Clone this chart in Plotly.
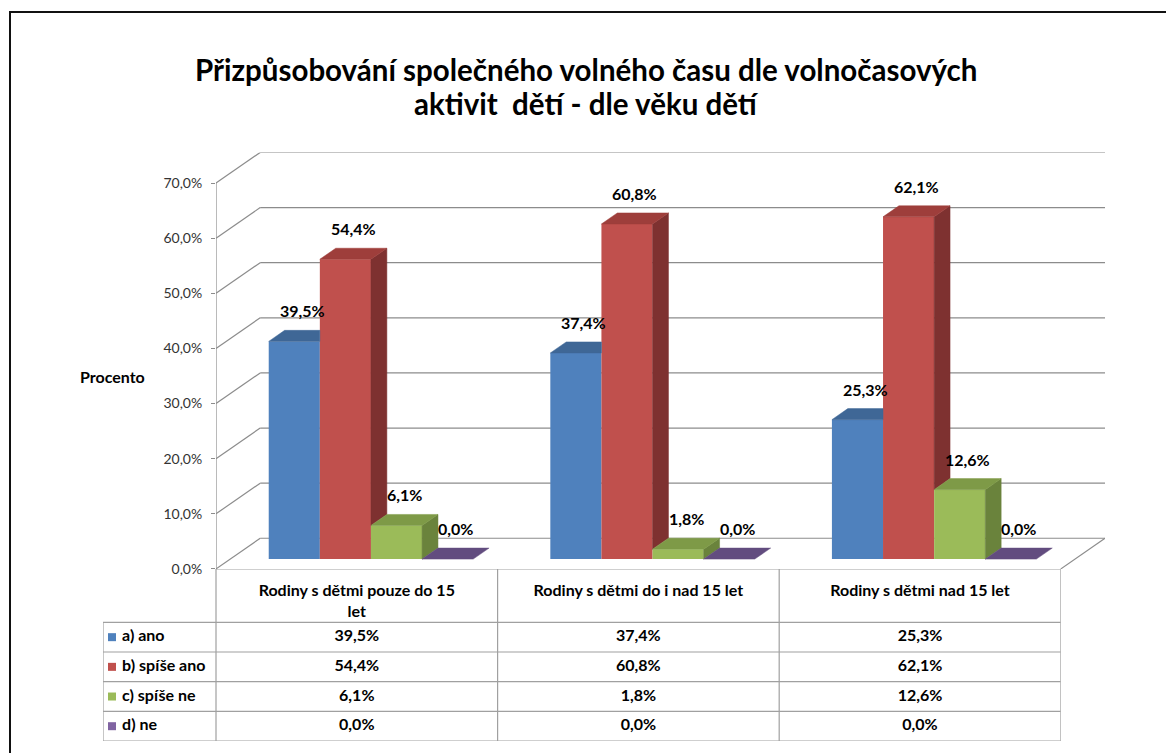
import plotly.graph_objects as go

# ---------------- data ----------------
title_lines = ["Přizpůsobování společného volného času dle volnočasových",
               "aktivit \u00a0dětí - dle věku dětí"]
categories = ["Rodiny s dětmi pouze do 15<br>let",
              "Rodiny s dětmi do i nad 15 let",
              "Rodiny s dětmi nad 15 let"]
series_names = ["a) ano", "b) spíše ano", "c) spíše ne", "d) ne"]
ano = [39.5, 37.4, 25.3]
spise_ano = [54.4, 60.8, 62.1]
spise_ne = [6.1, 1.8, 12.6]
ne = [0.0, 0.0, 0.0]
y_ticks = [0, 10, 20, 30, 40, 50, 60, 70]
y_tick_labels = ["0,0%", "10,0%", "20,0%", "30,0%", "40,0%", "50,0%", "60,0%", "70,0%"]
y_title = "Procento"

series_values = [ano, spise_ano, spise_ne, ne]

# ---------------- style / geometry ----------------
OFF = 8                      # page body margin of the browser
W, H = 1174 - OFF, 753 - OFF
FONT = "Lato, Calibri, 'Open Sans', sans-serif"
front_cols = ["#4F81BD", "#C0504D", "#9BBB59", "#8064A2"]
top_cols = ["#3F6796", "#9E3E3B", "#7E9A47", "#624C7F"]
side_cols = ["#375B87", "#7E3130", "#6A833C", "#55416E"]
GRID = "#8C8C8C"
TGRID = "#A0A0A0"


def fx(px):
    return (px - OFF) / W


def fy(py):
    return 1 - (py - OFF) / H


PLOT_L, PLOT_R, PLOT_T, PLOT_B = 216, 1105, 154, 575
TABLE_L, TABLE_B = 103, 749
DEPTH_X = 0.157   # wall depth in category units
DEPTH_Y = 5.56    # wall depth in % units
F1, F2 = 0.32, 0.68  # bar front/back as fraction of depth
BAR_W = 0.1815
n_cat = len(categories)
n_ser = len(series_names)
X_RANGE = [-0.5, n_cat - 0.5 + DEPTH_X]
Y_RANGE = [0, y_ticks[-1] + DEPTH_Y]
CAT_PX = (PLOT_R - PLOT_L) / (X_RANGE[1] - X_RANGE[0])
LEG_W = (PLOT_L - TABLE_L) / CAT_PX      # legend column width, category units
HEAD_H = 1.8                              # header height in row units


def fmt(v):
    return f"{v:.1f}".replace(".", ",") + "%"


fig = go.Figure()

d = (F2 - F1) * DEPTH_X
e = (F2 - F1) * DEPTH_Y
base = F1 * DEPTH_Y
annotations = []

for j, vals in enumerate(series_values):
    xc = [i + (j - 1.5) * BAR_W + F1 * DEPTH_X for i in range(n_cat)]
    fig.add_trace(go.Bar(x=xc, y=vals, base=base, width=BAR_W,
                         marker=dict(color=front_cols[j], line=dict(width=0)),
                         name=series_names[j], showlegend=False, hoverinfo="skip"))
    tx, ty, sx, sy = [], [], [], []
    for i in range(n_cat):
        x0, x1 = xc[i] - BAR_W / 2, xc[i] + BAR_W / 2
        t = base + vals[i]
        nxt = series_values[j + 1][i] + base if j + 1 < n_ser else base
        if nxt > t:
            tx += [x0, x1, x1, x0 + d, x0, None]
            ty += [t, t, t + e, t + e, t, None]
        else:
            tx += [x0, x1, x1 + d, x0 + d, x0, None]
            ty += [t, t, t + e, t + e, t, None]
            lo = max(base, nxt)
            if t > lo:
                sx += [x1, x1, x1 + d, x1 + d, x1, None]
                sy += [lo, t, t + e, lo + e, lo, None]
        annotations.append(dict(x=xc[i] + d / 2, y=t + e, xref="x", yref="y",
                                text="<b>" + fmt(vals[i]) + "</b>", showarrow=False,
                                yanchor="bottom", yshift=8,
                                font=dict(family=FONT, size=16, color="black")))
    if sx:
        fig.add_trace(go.Scatter(x=sx, y=sy, mode="lines", fill="toself",
                                 fillcolor=side_cols[j],
                                 line=dict(color=side_cols[j], width=0.5),
                                 showlegend=False, hoverinfo="skip"))
    fig.add_trace(go.Scatter(x=tx, y=ty, mode="lines", fill="toself",
                             fillcolor=top_cols[j],
                             line=dict(color=top_cols[j], width=0.5),
                             showlegend=False, hoverinfo="skip"))

# walls / gridlines
shapes = []
xl, xr = X_RANGE[0], n_cat - 0.5
gl = dict(color=GRID, width=1.2)
for v in y_ticks:
    shapes.append(dict(type="line", xref="x", yref="y", x0=xl, y0=v,
                       x1=xl + DEPTH_X, y1=v + DEPTH_Y, layer="below", line=gl))
    shapes.append(dict(type="line", xref="x", yref="y", x0=xl + DEPTH_X, y0=v + DEPTH_Y,
                       x1=xr + DEPTH_X, y1=v + DEPTH_Y, layer="below", line=gl))
shapes.append(dict(type="line", xref="x", yref="y", x0=xr, y0=0,
                   x1=xr + DEPTH_X, y1=DEPTH_Y, layer="below", line=gl))
shapes.append(dict(type="line", xref="x", yref="y", x0=xl, y0=0, x1=xl, y1=y_ticks[-1],
                   layer="below", line=gl))
# outer frame
shapes.append(dict(type="rect", xref="paper", yref="paper", x0=fx(10), y0=-0.05,
                   x1=1.05, y1=fy(12), line=dict(color="#111", width=2)))

# ---------------- data table (on its own axes x2/y2) ----------------
tl = -0.5 - LEG_W
tgl = dict(color=TGRID, width=1.2)
shapes.append(dict(type="line", xref="x2", yref="y2", x0=-0.5, y0=HEAD_H, x1=n_cat - 0.5,
                   y1=HEAD_H, line=tgl))
for r in range(n_ser + 1):
    shapes.append(dict(type="line", xref="x2", yref="y2", x0=tl, y0=-r, x1=n_cat - 0.5,
                       y1=-r, line=tgl))
shapes.append(dict(type="line", xref="x2", yref="y2", x0=tl, y0=-n_ser, x1=tl, y1=0,
                   line=tgl))
for c in range(n_cat + 1):
    shapes.append(dict(type="line", xref="x2", yref="y2", x0=c - 0.5, y0=-n_ser,
                       x1=c - 0.5, y1=HEAD_H, line=tgl))

row_y = [-(r + 0.5) for r in range(n_ser)]
# header texts
fig.add_trace(go.Scatter(
    x=list(range(n_cat)), y=[HEAD_H - 0.5] * n_cat, mode="text",
    text=["<b>" + c.replace("<br>", "</b><br><b>") + "</b>" for c in categories],
    textposition="bottom center", xaxis="x2", yaxis="y2",
    textfont=dict(family=FONT, size=16, color="black"),
    showlegend=False, hoverinfo="skip"))
# value cells
for i in range(n_cat):
    fig.add_trace(go.Scatter(
        x=[i] * n_ser, y=row_y, mode="text",
        text=["<b>" + fmt(series_values[j][i]) + "</b>" for j in range(n_ser)],
        textposition="middle center", xaxis="x2", yaxis="y2",
        textfont=dict(family=FONT, size=16, color="black"),
        showlegend=False, hoverinfo="skip"))
# legend keys + series names
KEY_INSET = 0.032
fig.add_trace(go.Scatter(
    x=[tl + KEY_INSET] * n_ser, y=row_y, mode="markers+text",
    marker=dict(symbol="square", size=8, color=front_cols, line=dict(width=0)),
    text=["\u00a0<b>" + s + "</b>" for s in series_names], textposition="middle right",
    xaxis="x2", yaxis="y2", cliponaxis=False,
    textfont=dict(family=FONT, size=16, color="black"),
    showlegend=False, hoverinfo="skip"))

# title & axis title
for line, yc in zip(title_lines, [70, 105]):
    annotations.append(dict(xref="paper", yref="paper", x=fx(586), y=fy(yc),
                            xanchor="center", yanchor="middle", showarrow=False,
                            text="<b>" + line + "</b>",
                            font=dict(family=FONT, size=29.5, color="black")))
annotations.append(dict(xref="paper", yref="paper", x=fx(112), y=fy(381),
                        xanchor="center", yanchor="middle", showarrow=False,
                        text="<b>" + y_title + "</b>",
                        font=dict(family=FONT, size=16, color="black")))

hidden = dict(showgrid=False, zeroline=False, showline=False, showticklabels=False,
              ticks="", fixedrange=True)
fig.update_layout(
    width=W, height=H, barmode="overlay",
    margin=dict(l=0, r=0, t=0, b=0),
    paper_bgcolor="white", plot_bgcolor="rgba(0,0,0,0)",
    shapes=shapes, annotations=annotations, showlegend=False,
    xaxis=dict(domain=[fx(PLOT_L), fx(PLOT_R)], range=X_RANGE, **hidden),
    yaxis=dict(domain=[fy(PLOT_B), fy(PLOT_T)], range=Y_RANGE, tickvals=y_ticks,
               ticktext=y_tick_labels, ticks="outside", ticklen=4, tickcolor=GRID,
               ticklabelstandoff=6, showgrid=False, zeroline=False, showline=False,
               fixedrange=True, tickfont=dict(family=FONT, size=14, color="#333")),
    xaxis2=dict(domain=[fx(TABLE_L), fx(PLOT_L + (n_cat * CAT_PX))],
                range=[tl, n_cat - 0.5], anchor="y2", **hidden),
    yaxis2=dict(domain=[fy(TABLE_B), fy(PLOT_B)], range=[-n_ser, HEAD_H],
                anchor="x2", **hidden),
)

fig.write_html("out.html")
